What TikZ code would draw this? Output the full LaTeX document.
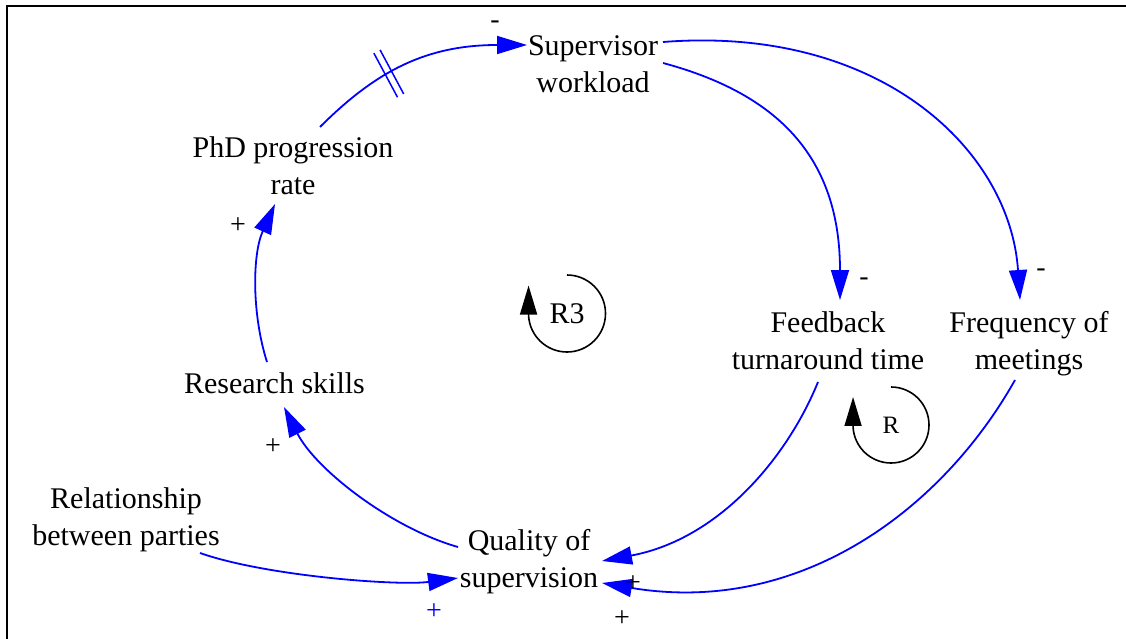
\documentclass[tikz,border=0pt]{standalone}
\usepackage{fontspec}
\setmainfont{Liberation Serif}
\usetikzlibrary{arrows.meta,calc,decorations.markings}

\begin{document}
\begin{tikzpicture}[x=1pt,y=-1pt,
  var/.style={inner sep=0pt, align=center, font=\fontsize{30}{37}\selectfont},
  sgn/.style={inner sep=0pt, font=\fontsize{28}{30}\selectfont},
  link/.style={draw=blue, line width=1.8pt, -{Triangle[length=30pt,width=18pt]}},
  delaymark/.style={postaction={decorate}, decoration={markings,
      mark=at position 0.38 with {\draw[blue, line width=1.5pt, arrows=-]
        (-3.5,-25) -- (-3.5,25) (3.5,-25) -- (3.5,25);}}},
  loopline/.style={draw=black, line width=1.6pt, -{Triangle[length=29pt,width=17pt]}},
  looplabel/.style={inner sep=0pt}
]
\useasboundingbox (0,0) rectangle (1126,639);

% frame
\draw[line width=2pt] (6.5,639) -- (6.5,6.5) -- (1126,6.5);

% variables
\node[var] (sw)  at (593,64)  {Supervisor\\workload};
\node[var] (phd) at (293,166) {PhD progression\\rate};
\node[var] (rs)  at (274.5,383) {Research skills};
\node[var] (rel) at (126,520) {Relationship\\between parties};
\node[var] (q)   at (529,562) {Quality of\\supervision};
\node[var] (fb)  at (828,341) {Feedback\\turnaround time};
\node[var] (fm)  at (1029,344) {Frequency of\\meetings};

% loop markers
\node[looplabel, font=\fontsize{30}{30}\selectfont] (r3) at (567,313.5) {R3};
\node[looplabel, font=\fontsize{25}{25}\selectfont] (r)  at (891,425) {R};
\draw[loopline] ($(r3)+(0,-38.5)$) arc[start angle=-90, end angle=177, radius=38.5] -- ++(0,-30);
\draw[loopline] ($(r)+(0,-38)$) arc[start angle=-90, end angle=177, radius=38] -- ++(0,-30);

% causal links
\draw[link, delaymark] ($(phd)+(27,-39)$) .. controls +(56.6,-56.6) and +(-100,0) .. ($(sw)+(-66,-19)$);
\draw[link] ($(sw)+(70,-1)$) .. controls +(106,28.5) and +(0,-150) .. ($(fb)+(12,-41)$);
\draw[link] ($(sw)+(70,-22)$) .. controls +(217,-17) and +(-10,-150) .. ($(fm)+(-9,-44)$);
\draw[link] ($(fb)+(-10,41)$) .. controls +(-30,74) and +(118,-22) .. ($(q)+(73,-1)$);
\draw[link] ($(fm)+(-14,36)$) .. controls +(-73.5,130.5) and +(197,33) .. ($(q)+(73,21)$);
\draw[link] ($(q)+(-71,-15)$) .. controls +(-67,-19) and +(31.5,62.3) .. ($(rs)+(9.5,24)$);
\draw[link] ($(rs)+(-7.5,-21)$) .. controls +(-15,-47) and +(-23,51) .. ($(phd)+(-18,38)$);
\draw[link] ($(rel)+(74,33)$) .. controls +(65.8,23.1) and +(-60,8) .. ($(q)+(-71,16)$);

% polarities
\node[sgn] (p1) at (495,25)  {-};
\node[sgn] (p2) at (238,226) {+};
\node[sgn] (p3) at (273,447) {+};
\node[sgn] (p4) at (864,282) {-};
\node[sgn] (p5) at (1041,273) {-};
\node[sgn, text=blue] (p6) at (434,612) {+};
\node[sgn] (p7) at (633,584) {+};
\node[sgn] (p8) at (622,619) {+};
\end{tikzpicture}
\end{document}
